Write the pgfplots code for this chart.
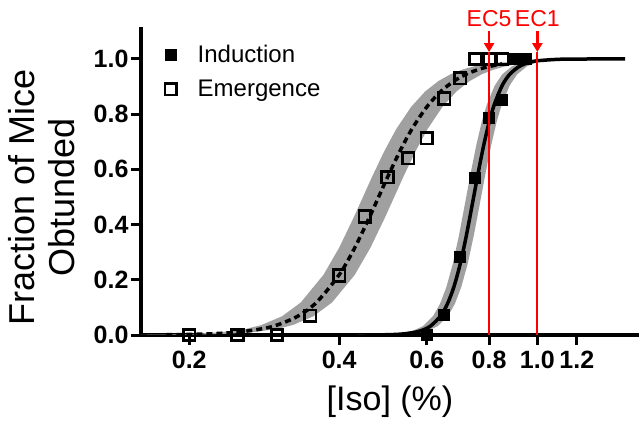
\documentclass[border=0pt]{standalone}
\usepackage{fontspec}
\setmainfont{Liberation Sans}
\usepackage{pgfplots}
\pgfplotsset{compat=1.18}
\usetikzlibrary{arrows.meta}
\definecolor{band}{RGB}{160,160,160}
\definecolor{ecred}{RGB}{255,0,0}

\begin{document}
\begin{tikzpicture}
\useasboundingbox (-141pt,-86pt) rectangle (498pt,335pt);
\begin{axis}[
  scale only axis, width=498pt, height=306.4pt,
  xmode=log, xmin=0.16, xmax=1.6, ymin=0, ymax=1.11,
  axis lines*=left,
  axis line style={line width=3.5pt, line cap=rect},
  xtick={0.2,0.4,0.6,0.8,1.0,1.2}, xticklabels={0.2,0.4,0.6,0.8,1.0,1.2},
  ytick={0,0.2,0.4,0.6,0.8,1.0}, yticklabels={0.0,0.2,0.4,0.6,0.8,1.0},
  minor xtick={},
  tick align=outside, major tick length=10pt,
  tick style={line width=3pt, black},
  tick label style={font=\fontsize{25}{29}\selectfont\bfseries},
  xticklabel style={yshift=-3pt},
  yticklabel style={xshift=1pt},
  /pgf/number format/assume math mode=true,
  xlabel={[Iso] (\%)}, ylabel={Fraction of Mice\\Obtunded},
  xlabel style={font=\fontsize{34}{40}\selectfont, at={(axis description cs:0.5,-0.2177)}, anchor=center},
  ylabel style={font=\fontsize{36}{40}\selectfont, at={(axis description cs:-0.199,0.448)}, anchor=center, align=center},
  clip mode=individual,
  legend style={at={(axis description cs:0.042,0.959)}, anchor=north west, draw=none, fill=none,
    font=\fontsize{24}{28}\selectfont, row sep=12pt,
    /tikz/every odd column/.append style={column sep=19pt}},
  legend cell align=left,
]
% confidence bands
\addplot[fill=band, draw=none, forget plot] coordinates {
(0.1488,0.0005)(0.1674,0.0010)(0.186,0.0022)(0.2046,0.0042)(0.2326,0.0103)(0.2605,0.0225)(0.2791,0.0359)(0.307,0.0676)(0.3349,0.1177)(0.3721,0.2182)(0.4,0.3165)(0.4279,0.4262)(0.4465,0.5)(0.4651,0.571)(0.493,0.6668)(0.5209,0.7464)(0.5581,0.8267)(0.5953,0.8823)(0.6325,0.9197)(0.6697,0.9448)(0.707,0.9614)(0.7442,0.9727)(0.7907,0.982)(0.8372,0.9879)
(0.9675,0.9879)(0.9138,0.982)(0.86,0.9727)(0.817,0.9614)(0.774,0.9448)(0.731,0.9197)(0.688,0.8823)(0.645,0.8267)(0.602,0.7464)(0.5698,0.6668)(0.5375,0.571)(0.516,0.5)(0.4945,0.4262)(0.4623,0.3165)(0.43,0.2182)(0.387,0.1177)(0.3548,0.0676)(0.3225,0.0359)(0.301,0.0225)(0.2688,0.0103)(0.2365,0.0042)(0.215,0.0022)(0.1935,0.0010)(0.172,0.0005)
} -- cycle;
\addplot[fill=band, draw=none, forget plot] coordinates {
(0.4348,0.0002)(0.4831,0.0011)(0.5217,0.0042)(0.5604,0.0140)(0.5894,0.0323)(0.6184,0.0703)(0.6377,0.1132)(0.657,0.1748)(0.6763,0.2575)(0.6957,0.359)(0.7198,0.5)(0.7343,0.584)(0.7536,0.6857)(0.773,0.7707)(0.7923,0.8362)(0.8213,0.904)(0.8503,0.9444)(0.8889,0.973)(0.9276,0.9868)(0.9662,0.9934)(1.0628,0.9987)(1.1594,0.9997)
(1.242,0.9997)(1.1385,0.9987)(1.035,0.9934)(0.9936,0.9868)(0.9522,0.973)(0.9108,0.9444)(0.8798,0.904)(0.8487,0.8362)(0.828,0.7707)(0.8073,0.6857)(0.7866,0.584)(0.7711,0.5)(0.7452,0.359)(0.7245,0.2575)(0.7038,0.1748)(0.6831,0.1132)(0.6624,0.0703)(0.6314,0.0323)(0.6003,0.0140)(0.5589,0.0042)(0.5175,0.0011)(0.4658,0.0002)
} -- cycle;
% fitted curves
\addplot[black, line width=3.5pt, dash pattern=on 6pt off 4pt, smooth, forget plot] coordinates {
(0.18,0.0010)(0.2,0.0022)(0.22,0.0042)(0.25,0.0103)(0.28,0.0225)(0.3,0.0359)(0.33,0.0676)(0.36,0.1177)(0.4,0.2182)(0.43,0.3165)(0.46,0.4262)(0.48,0.5)(0.5,0.571)(0.53,0.6668)(0.56,0.7464)(0.6,0.8267)(0.64,0.8823)(0.68,0.9197)(0.72,0.9448)(0.76,0.9614)(0.8,0.9727)(0.85,0.982)
};
\addplot[black, line width=3.5pt, smooth, forget plot] coordinates {
(0.45,0.0002)(0.5,0.0011)(0.54,0.0042)(0.58,0.0140)(0.61,0.0323)(0.64,0.0703)(0.66,0.1132)(0.68,0.1748)(0.7,0.2575)(0.72,0.359)(0.745,0.5)(0.76,0.584)(0.78,0.6857)(0.8,0.7707)(0.82,0.8362)(0.85,0.904)(0.88,0.9444)(0.92,0.973)(0.96,0.9868)(1.0,0.9934)(1.1,0.9987)(1.2,0.9997)(1.35,1.0)(1.5,1.0)
};
% data
\addplot[only marks, mark=square*, mark size=5.5pt, mark options={fill=black, draw=black, line width=1pt}] coordinates {
(0.6,0)(0.65,0.072)(0.7,0.284)(0.75,0.568)(0.8,0.785)(0.85,0.851)(0.9,1)(0.95,1)
};
\addlegendentry{Induction}
\addplot[only marks, mark=square, mark size=5.8pt, mark options={draw=black, line width=2.7pt}] coordinates {
(0.2,0)(0.25,0)(0.3,0)(0.35,0.07)(0.4,0.216)(0.45,0.429)(0.5,0.572)(0.55,0.64)(0.6,0.713)(0.65,0.857)(0.7,0.93)(0.75,1)(0.8,1)(0.85,1)
};
\addlegendentry{Emergence}
% EC markers
\addplot[ecred, line width=2pt, forget plot] coordinates {(0.8,0) (0.8,1.025)};
\addplot[ecred, line width=2pt, forget plot] coordinates {(1.0,0) (1.0,1.025)};
\draw[ecred, line width=2.5pt, -{Triangle[length=9pt,width=10pt]}] (axis cs:0.8,1.10) -- (axis cs:0.8,1.025);
\draw[ecred, line width=2.5pt, -{Triangle[length=9pt,width=10pt]}] (axis cs:1.0,1.10) -- (axis cs:1.0,1.025);
\node[ecred, anchor=base, font=\fontsize{23}{27}\selectfont] at (axis cs:0.8,1.116) {EC5};
\node[ecred, anchor=base, font=\fontsize{23}{27}\selectfont] at (axis cs:1.0,1.116) {EC1};
\end{axis}
\end{tikzpicture}
\end{document}
